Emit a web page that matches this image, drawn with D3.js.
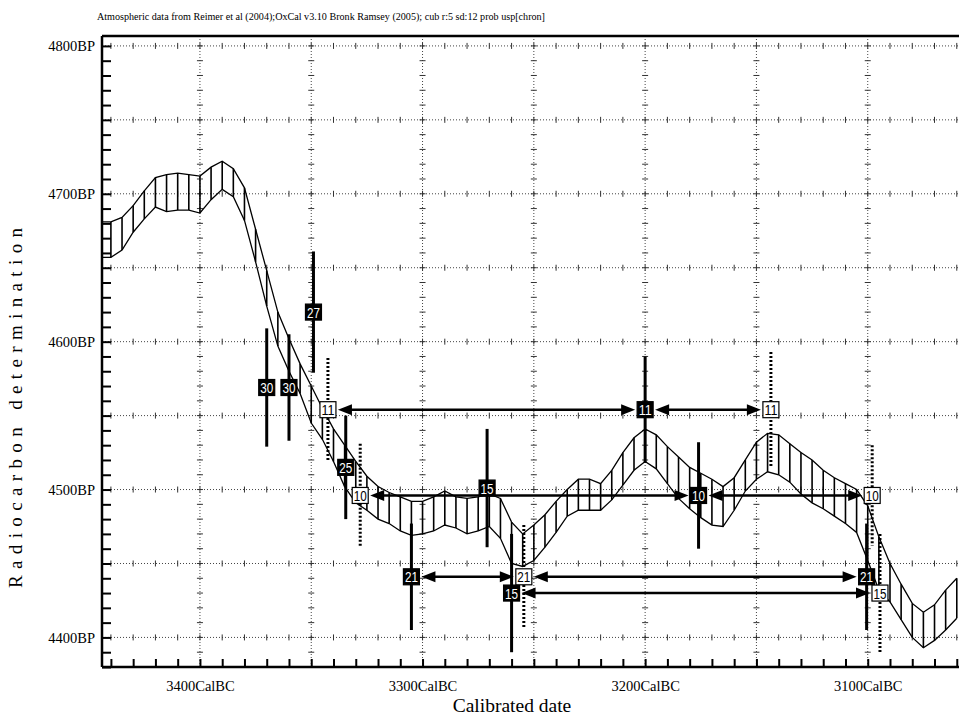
<!DOCTYPE html>
<html>
<head>
<meta charset="utf-8">
<script src="https://cdn.jsdelivr.net/npm/d3@7"></script>
<style>
body { margin: 0; background: #fff; }
svg { display: block; font-family: "Liberation Serif", "DejaVu Serif", serif; }
</style>
</head>
<body>
<div id="chart"></div>
<script>
// calibration curve, upper / lower edge, read every 5 years
const years = [3445, 3440, 3435, 3430, 3425, 3420, 3415, 3410, 3405, 3400,
    3395, 3390, 3385, 3380, 3375, 3370, 3365, 3360, 3355, 3350,
    3345, 3340, 3335, 3330, 3325, 3320, 3315, 3310, 3305, 3300,
    3295, 3290, 3285, 3280, 3275, 3270, 3265, 3260, 3255, 3250,
    3245, 3240, 3235, 3230, 3225, 3220, 3215, 3210, 3205, 3200,
    3195, 3190, 3185, 3180, 3175, 3170, 3165, 3160, 3155, 3150,
    3145, 3140, 3135, 3130, 3125, 3120, 3115, 3110, 3105, 3100,
    3095, 3090, 3085, 3080, 3075, 3070, 3065, 3060];
const upperBP = [4681, 4681, 4684, 4692, 4702, 4711, 4713, 4714, 4713, 4712,
    4718, 4722, 4717, 4704, 4676, 4648, 4620, 4602, 4585, 4570,
    4555, 4541, 4530, 4519, 4509, 4502, 4498, 4495, 4492, 4492,
    4495, 4499, 4495, 4494, 4495, 4497, 4494, 4478, 4470, 4476,
    4483, 4492, 4500, 4507, 4507, 4504, 4513, 4525, 4535, 4541,
    4537, 4529, 4522, 4515, 4511, 4507, 4502, 4508, 4520, 4532,
    4538, 4537, 4531, 4525, 4520, 4513, 4508, 4504, 4500, 4489,
    4468, 4450, 4436, 4423, 4417, 4422, 4432, 4440];
const lowerBP = [4657, 4657, 4662, 4674, 4683, 4691, 4688, 4689, 4689, 4687,
    4696, 4703, 4698, 4682, 4654, 4624, 4597, 4580, 4565, 4545,
    4534, 4519, 4502, 4491, 4486, 4480, 4477, 4472, 4469, 4470,
    4472, 4476, 4474, 4470, 4472, 4475, 4467, 4450, 4448, 4452,
    4461, 4471, 4482, 4486, 4486, 4486, 4493, 4503, 4513, 4519,
    4514, 4504, 4494, 4487, 4481, 4476, 4475, 4486, 4499, 4507,
    4512, 4510, 4505, 4497, 4491, 4487, 4482, 4477, 4471, 4452,
    4432, 4424, 4412, 4400, 4393, 4398, 4405, 4413];

// dated samples
const sampleLabels = ['30', '30', '27', '11', '25', '10', '21', '15', '15', '21', '11', '10', '11', '10', '21', '15'];
const sampleYears = [3370, 3360, 3349, 3342.5, 3334.5, 3328, 3305, 3271, 3260, 3254.5, 3200, 3176, 3143.5, 3098, 3100.5, 3094.5];
const sampleBP = [4569, 4569, 4620, 4554, 4515, 4496, 4441, 4501, 4430, 4441, 4554, 4496, 4554, 4496, 4441, 4430];
const sampleErr = [40, 36, 41, 35, 35, 35, 36, 40, 40, 35, 36, 36, 39, 34, 36, 40];
const sampleFilled = [true, true, true, false, true, false, true, true, true, false, true, true, false, false, true, false];

// gaps joined by double arrows (sample index pairs)
const arrowPairs = [[3, 10], [10, 12], [5, 11], [11, 13], [6, 9], [9, 14], [8, 15]];

const yTicks = [4400, 4500, 4600, 4700, 4800];
const xTicks = [3400, 3300, 3200, 3100];

const svgWidth = 959, svgHeight = 718;
const margin = { top: 36, left: 102, right: 0, bottom: 51 };
const width = svgWidth - margin.left - margin.right;
const height = svgHeight - margin.top - margin.bottom;

const svg = d3.select('#chart').append('svg')
    .attr('width', svgWidth)
    .attr('height', svgHeight);

const g = svg.append('g').attr('transform', `translate(${margin.left}, ${margin.top})`);

const x = d3.scaleLinear().domain([3444, 3059]).range([0, width]);
const y = d3.scaleLinear().domain([4380, 4806.7]).range([height, 0]);

svg.append('defs').append('clipPath').attr('id', 'plot-clip')
    .append('rect').attr('width', width).attr('height', height);

//title line
svg.append('text')
    .attr('x', 97).attr('y', 20)
    .attr('font-size', 11)
    .attr('textLength', 448).attr('lengthAdjust', 'spacingAndGlyphs')
    .text('Atmospheric data from Reimer et al (2004);OxCal v3.10 Bronk Ramsey (2005); cub r:5 sd:12 prob usp[chron]');

//dotted grid every 50 years / 50 BP
const gridX = d3.range(3100, 3401, 50);
const gridY = d3.range(4400, 4801, 50);
const grid = g.append('g').attr('class', 'grid');

grid.selectAll('.gx').data(gridX).enter().append('line')
    .attr('x1', d => x(d)).attr('x2', d => x(d))
    .attr('y1', 0).attr('y2', height)
    .attr('stroke', '#444').attr('stroke-width', 1).attr('stroke-dasharray', '1,2');

grid.selectAll('.gy').data(gridY).enter().append('line')
    .attr('x1', 0).attr('x2', width)
    .attr('y1', d => y(d)).attr('y2', d => y(d))
    .attr('stroke', '#444').attr('stroke-width', 1).attr('stroke-dasharray', '1,2');

//small crosses on the grid lines
const minorX = d3.range(3060, 3441, 10);
const minorY = d3.range(4380, 4801, 10);
gridY.forEach(v => {
    grid.selectAll(null).data(minorX).enter().append('line')
        .attr('x1', d => x(d)).attr('x2', d => x(d))
        .attr('y1', y(v) - 3).attr('y2', y(v) + 3)
        .attr('stroke', '#333').attr('stroke-width', 1);
});
gridX.forEach(v => {
    grid.selectAll(null).data(minorY).enter().append('line')
        .attr('x1', x(v) - 3).attr('x2', x(v) + 3)
        .attr('y1', d => y(d)).attr('y2', d => y(d))
        .attr('stroke', '#333').attr('stroke-width', 1);
});

//axes: inward ticks every 10
const yAxisTicks = g.append('g')
    .call(d3.axisLeft(y).tickValues(minorY).tickSize(-9).tickFormat(''));
const xAxisTicks = g.append('g').attr('transform', `translate(0, ${height})`)
    .call(d3.axisBottom(x).tickValues(minorX).tickSize(-8).tickFormat(''));
[yAxisTicks, xAxisTicks].forEach(a => {
    a.select('.domain').remove();
    a.selectAll('line').attr('stroke', '#000').attr('stroke-width', 2);
});

const yLabels = g.append('g')
    .call(d3.axisLeft(y).tickValues(yTicks).tickSize(0).tickPadding(7).tickFormat(d => d + 'BP'));
const xLabels = g.append('g').attr('transform', `translate(0, ${height})`)
    .call(d3.axisBottom(x).tickValues(xTicks).tickSize(0).tickPadding(14).tickFormat(d => d + 'CalBC'));
[yLabels, xLabels].forEach(a => {
    a.select('.domain').remove();
    a.selectAll('text').attr('font-family', '"Liberation Serif", serif').attr('font-size', 14.5).attr('fill', '#000');
});

//frame
g.append('line').attr('x1', 0).attr('x2', 0).attr('y1', 0).attr('y2', height)
    .attr('stroke', '#000').attr('stroke-width', 2.5);
g.append('line').attr('x1', 0).attr('x2', width).attr('y1', height).attr('y2', height)
    .attr('stroke', '#000').attr('stroke-width', 2.5);
g.append('line').attr('x1', 0).attr('x2', width).attr('y1', 0).attr('y2', 0)
    .attr('stroke', '#000').attr('stroke-width', 2.5);

//calibration curve with hatching
const curveData = years.map((yr, i) => ({ yr, hi: upperBP[i], lo: lowerBP[i] }));
const curve = g.append('g').attr('clip-path', 'url(#plot-clip)');

curve.selectAll('.hatch').data(curveData).enter().append('line')
    .attr('x1', d => x(d.yr)).attr('x2', d => x(d.yr))
    .attr('y1', d => y(d.hi)).attr('y2', d => y(d.lo))
    .attr('stroke', '#000').attr('stroke-width', 1.6);

['hi', 'lo'].forEach(k => {
    curve.append('path').datum(curveData)
        .attr('fill', 'none').attr('stroke', '#000').attr('stroke-width', 1.3)
        .attr('d', d3.line().x(d => x(d.yr)).y(d => y(d[k])));
});

//samples
const samples = sampleLabels.map((label, i) => ({
    label, yr: sampleYears[i], bp: sampleBP[i], err: sampleErr[i], filled: sampleFilled[i]
}));

g.selectAll('.err').data(samples).enter().append('line')
    .attr('x1', d => x(d.yr)).attr('x2', d => x(d.yr))
    .attr('y1', d => y(d.bp + d.err)).attr('y2', d => y(d.bp - d.err))
    .attr('stroke', '#000').attr('stroke-width', 3)
    .attr('stroke-dasharray', d => d.filled ? null : '2,2');

//double arrows between samples
const boxHalf = 8;
const headLen = 14, headW = 5.5;
const arrows = g.append('g').attr('class', 'arrows');
arrowPairs.forEach(([a, b]) => {
    const s = samples[a], t = samples[b];
    const x1 = x(s.yr) + boxHalf + 2, x2 = x(t.yr) - boxHalf - 2, yy = y(s.bp);
    arrows.append('line')
        .attr('x1', x1 + headLen - 2).attr('x2', x2 - headLen + 2)
        .attr('y1', yy).attr('y2', yy)
        .attr('stroke', '#000').attr('stroke-width', 2.5);
    arrows.append('path')
        .attr('d', `M${x1},${yy}L${x1 + headLen},${yy - headW}L${x1 + headLen},${yy + headW}Z`);
    arrows.append('path')
        .attr('d', `M${x2},${yy}L${x2 - headLen},${yy - headW}L${x2 - headLen},${yy + headW}Z`);
});

const box = g.selectAll('.box').data(samples).enter().append('g')
    .attr('transform', d => `translate(${x(d.yr)}, ${y(d.bp)})`);

box.append('rect')
    .attr('x', -boxHalf).attr('y', -boxHalf)
    .attr('width', boxHalf * 2).attr('height', boxHalf * 2)
    .attr('fill', d => d.filled ? '#000' : '#fff')
    .attr('stroke', '#000').attr('stroke-width', 1.2);

box.append('text')
    .attr('text-anchor', 'middle').attr('y', 5.5)
    .attr('font-family', '"Liberation Sans", sans-serif')
    .attr('font-size', 15)
    .attr('textLength', 13).attr('lengthAdjust', 'spacingAndGlyphs')
    .attr('fill', d => d.filled ? '#fff' : '#000')
    .text(d => d.label);

//axis titles
svg.append('text')
    .attr('transform', `translate(22, 408) rotate(-90)`)
    .attr('text-anchor', 'middle')
    .attr('font-size', 19)
    .attr('textLength', 360).attr('lengthAdjust', 'spacing')
    .text('Radiocarbon determination');

svg.append('text')
    .attr('x', 512).attr('y', 712)
    .attr('text-anchor', 'middle')
    .attr('font-size', 19.5)
    .text('Calibrated date');
</script>
</body>
</html>
